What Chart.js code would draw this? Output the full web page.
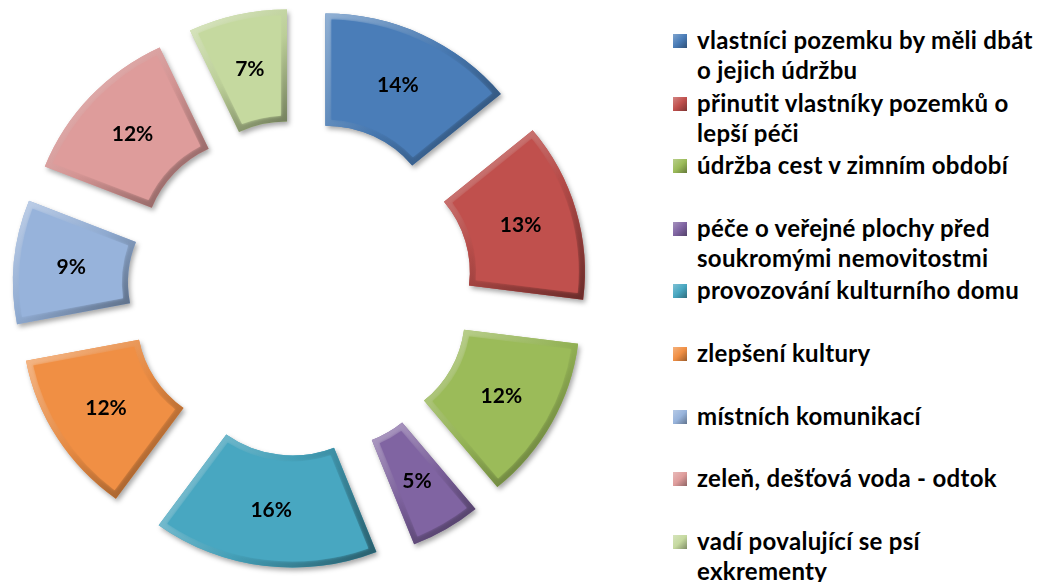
<!DOCTYPE html>
<html>
<head>
<meta charset="utf-8">
<script src="https://cdn.jsdelivr.net/npm/chart.js@4"></script>
<style>
  body { margin: 0; background: #fff; width: 1049px; height: 582px; overflow: hidden; position: relative; font-family: Lato, "Open Sans", sans-serif; }
  #wrap { position: absolute; left: 0; top: 0; width: 600px; height: 582px; }
  #legend { position: absolute; left: 673px; top: 25px; }
  .item { position: absolute; left: 0; white-space: nowrap; }
  .item .box { position: absolute; left: 0; top: 9px; width: 14px; height: 14px; }
  .item .txt { position: absolute; left: 24px; top: 0; font-size: 24px; font-weight: bold; letter-spacing: 0.3px; line-height: 30px; color: #000; }
</style>
</head>
<body>
<div id="wrap"><canvas id="pie"></canvas></div>
<div id="legend"></div>
<script>
// categories (each entry = lines of the legend text)
const labels = [
  ["vlastníci pozemku by měli dbát", "o jejich údržbu"],
  ["přinutit vlastníky pozemků o", "lepší péči"],
  ["údržba cest v zimním období"],
  ["péče o veřejné plochy před", "soukromými nemovitostmi"],
  ["provozování kulturního domu"],
  ["zlepšení kultury"],
  ["místních komunikací"],
  ["zeleň, dešťová voda - odtok"],
  ["vadí povalující se psí", "exkrementy"]
];
// share in percent
const values = [14, 13, 12, 5, 16, 12, 9, 12, 7];
const colors = ["#4A7DB8", "#C0504D", "#9BBB59", "#8064A2", "#48A7C1", "#F08F44", "#97B3DB", "#DE9C9B", "#C5D99F"];

const EXPLODE = 58;
const BEVEL = 6;
const STRETCH_X = 1.026;

function mix(hex, target, t) {
  const a = parseInt(hex.slice(1), 16), b = parseInt(target.slice(1), 16);
  const ch = (v, s) => (v >> s) & 255;
  const m = s => Math.round(ch(a, s) + (ch(b, s) - ch(a, s)) * t);
  return `rgb(${m(16)},${m(8)},${m(0)})`;
}

function slicePath(ctx, ri, ro, a0, a1, inset) {
  const o = ro - inset, i = ri + inset;
  ctx.beginPath();
  ctx.arc(0, 0, o, a0 + inset / o, a1 - inset / o);
  ctx.arc(0, 0, i, a1 - inset / i, a0 + inset / i, true);
  ctx.closePath();
}

// draws the exploded, bevelled slices from the arc geometry chart.js computed
const bevelSlices = {
  id: 'bevelSlices',
  beforeDatasetDraw(chart, args) {
    const ctx = chart.ctx;
    const total = values.reduce((a, b) => a + b, 0);
    args.meta.data.forEach((arc, i) => {
      const { x, y, startAngle: s, endAngle: e, innerRadius: ri, outerRadius: ro } = arc;
      const mid = (s + e) / 2;
      const base = colors[i];
      ctx.save();
      ctx.translate(x, y);
      ctx.scale(STRETCH_X, 1);
      ctx.translate(Math.cos(mid) * EXPLODE, Math.sin(mid) * EXPLODE);

      // drop shadow
      ctx.save();
      ctx.shadowColor = 'rgba(0,0,0,0.35)';
      ctx.shadowBlur = 5;
      ctx.shadowOffsetX = 2;
      ctx.shadowOffsetY = 3;
      slicePath(ctx, ri, ro, s, e, 0);
      ctx.fillStyle = base;
      ctx.fill();
      ctx.restore();

      // bevel rim, light from top-left
      const pts = [];
      [s, mid, e].forEach(a => [ri, ro].forEach(r => pts.push([Math.cos(a) * r, Math.sin(a) * r])));
      const xs = pts.map(p => p[0]), ys = pts.map(p => p[1]);
      const g = ctx.createLinearGradient(Math.min(...xs), Math.min(...ys), Math.max(...xs), Math.max(...ys));
      g.addColorStop(0, mix(base, '#ffffff', 0.4));
      g.addColorStop(0.5, mix(base, '#000000', 0.05));
      g.addColorStop(1, mix(base, '#000000', 0.45));
      slicePath(ctx, ri, ro, s, e, 0);
      ctx.fillStyle = g;
      ctx.fill();

      // flat face
      ctx.save();
      ctx.shadowColor = base;
      ctx.shadowBlur = 3;
      slicePath(ctx, ri, ro, s, e, BEVEL);
      ctx.fillStyle = base;
      ctx.fill();
      ctx.restore();

      // percentage label
      const rm = (ri + ro) / 2;
      const lx = Math.cos(mid) * rm, ly = Math.sin(mid) * rm;
      ctx.scale(1 / STRETCH_X, 1);
      ctx.fillStyle = '#000';
      ctx.font = 'bold 21px Lato, "Open Sans", sans-serif';
      ctx.textAlign = 'center';
      ctx.textBaseline = 'middle';
      ctx.fillText(Math.round(values[i] / total * 100) + '%', lx * STRETCH_X, ly);
      ctx.restore();
    });
    return false;
  }
};

new Chart(document.getElementById('pie'), {
  type: 'doughnut',
  data: {
    labels,
    datasets: [{
      data: values,
      backgroundColor: colors,
      borderWidth: 0
    }]
  },
  options: {
    responsive: true,
    maintainAspectRatio: false,
    animation: false,
    radius: 222,
    cutout: '49.5%',
    layout: { padding: { bottom: 6 } },
    plugins: { legend: { display: false }, tooltip: { enabled: false } }
  },
  plugins: [bevelSlices]
});

// legend built from the same arrays
const legend = document.getElementById('legend');
labels.forEach((lines, i) => {
  const item = document.createElement('div');
  item.className = 'item';
  item.style.top = (i * 62.6) + 'px';
  const box = document.createElement('div');
  box.className = 'box';
  box.style.background = `linear-gradient(135deg, ${mix(colors[i], '#ffffff', 0.3)}, ${colors[i]} 50%, ${mix(colors[i], '#000000', 0.35)})`;
  const txt = document.createElement('div');
  txt.className = 'txt';
  txt.innerHTML = lines.join('<br>');
  item.appendChild(box);
  item.appendChild(txt);
  legend.appendChild(item);
});
</script>
</body>
</html>
